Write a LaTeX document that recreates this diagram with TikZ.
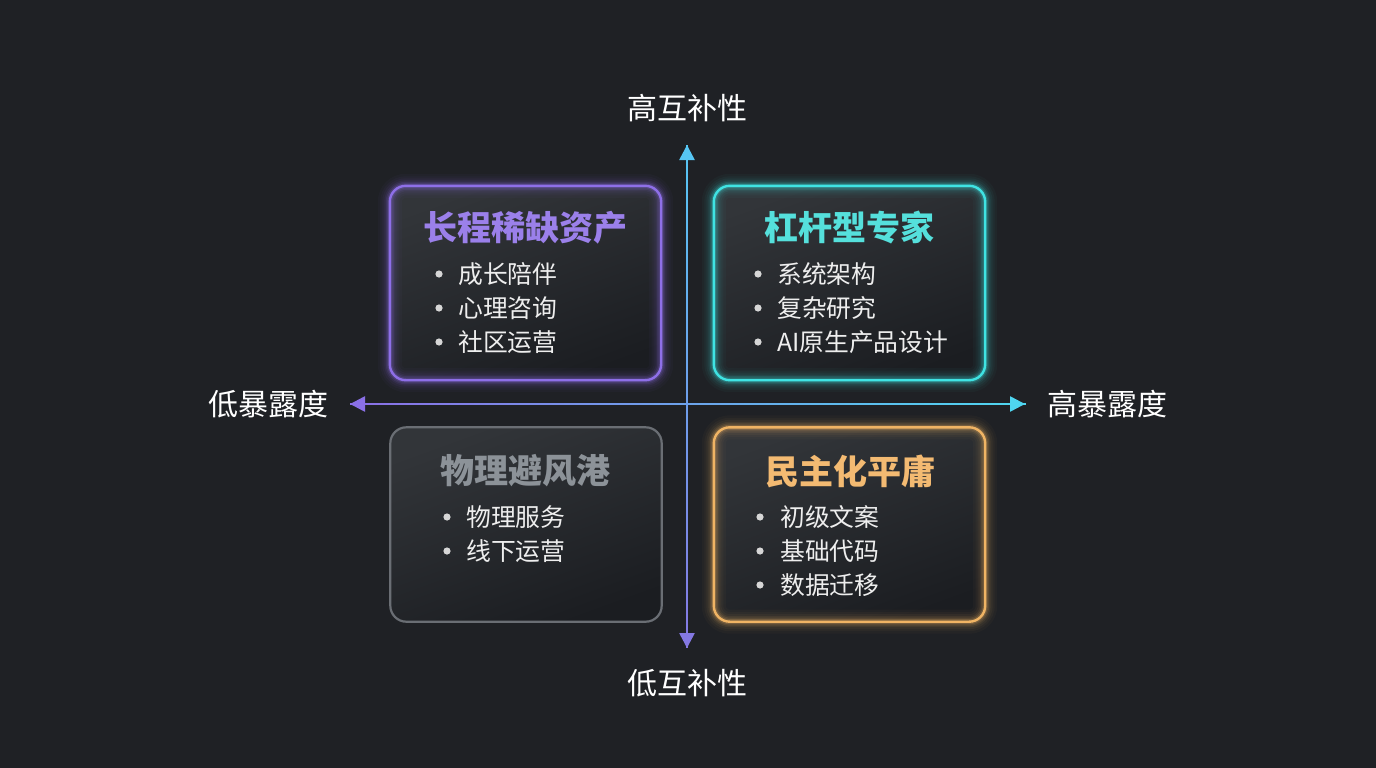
\documentclass[tikz,border=0pt]{standalone}
\usepackage{fontspec}
\setmainfont{Noto Sans CJK SC}
\usetikzlibrary{arrows.meta,calc}
\definecolor{bg}{HTML}{1F2125}
\definecolor{boxtop}{HTML}{323539}
\definecolor{boxbot}{HTML}{1B1D21}
\definecolor{cpurple}{HTML}{8E6FE8}
\definecolor{tpurple}{HTML}{9B80EA}
\definecolor{ccyan}{HTML}{3FE3E3}
\definecolor{tcyan}{HTML}{55E0DC}
\definecolor{cgray}{HTML}{6A6E74}
\definecolor{tgray}{HTML}{8C9298}
\definecolor{corange}{HTML}{F0B464}
\definecolor{torange}{HTML}{F3BA72}
\definecolor{itemtxt}{HTML}{EEEEEE}
\definecolor{dotc}{HTML}{D6D6D6}
\definecolor{vtopc}{HTML}{56C6F4}
\definecolor{vbotc}{HTML}{8478E2}
\definecolor{hleftc}{HTML}{8A70E6}
\definecolor{hrightc}{HTML}{4FD6F0}
\tikzset{
  quad/.style={minimum width=271pt,minimum height=194pt,rounded corners=16pt,inner sep=0pt,
    top color=boxtop,bottom color=boxbot,shading angle=20},
  titletxt/.style={font=\fontsize{34}{34}\selectfont\bfseries,inner sep=0pt},
  itemtext/.style={font=\fontsize{24.8}{25}\selectfont,text=itemtxt,inner sep=0pt,anchor=west},
  axislabel/.style={font=\fontsize{30}{30}\selectfont,text=white,inner sep=0pt},
  dotstyle/.style={fill=dotc}
}
\newcommand\glowrect[2]{%
  \foreach \w/\o in {24/0.03,19/0.04,15/0.05,11/0.08,8/0.12,5/0.2}{%
    \draw[#2,opacity=\o,line width=\w pt,rounded corners=16pt] (#1.south west) rectangle (#1.north east);}%
  \draw[#2,line width=2.4pt,rounded corners=16pt] (#1.south west) rectangle (#1.north east);}
\begin{document}
\begin{tikzpicture}[x=1pt,y=-1pt]
\fill[bg] (0,0) rectangle (1376,768);
\useasboundingbox (0,0) rectangle (1376,768);

% axes
\coordinate (vtop) at (687,145);
\coordinate (vbot) at (687,648);
\coordinate (hleft) at (350,404);
\coordinate (hright) at (1025,404);
\foreach \i in {0,...,59}{
  \pgfmathsetmacro{\p}{100-\i*100/59}
  \draw[line width=2.6pt,color=vtopc!\p!vbotc] ($(vtop)!{\i/60}!(vbot)$) -- ($(vtop)!{(\i+1.05)/60}!(vbot)$);
  \draw[line width=2.6pt,color=hleftc!\p!hrightc] ($(hleft)!{\i/60}!(hright)$) -- ($(hleft)!{(\i+1.05)/60}!(hright)$);
}
\draw[-{Triangle[length=15pt,width=15pt]},vtopc,line width=2.6pt] ($(vtop)+(0,16)$) -- (vtop);
\draw[-{Triangle[length=15pt,width=15pt]},vbotc,line width=2.6pt] ($(vbot)+(0,-16)$) -- (vbot);
\draw[-{Triangle[length=15pt,width=15pt]},hleftc,line width=2.6pt] ($(hleft)+(16,0)$) -- (hleft);
\draw[-{Triangle[length=15pt,width=15pt]},hrightc,line width=2.6pt] ($(hright)+(-16,0)$) -- (hright);

% axis labels
\node[axislabel] (lbltop) at (687,108) {高互补性};
\node[axislabel] (lblbot) at (687,683) {低互补性};
\node[axislabel] (lblleft) at (268,404) {低暴露度};
\node[axislabel] (lblright) at (1107,404) {高暴露度};

% boxes
\node[quad] (tl) at (525.5,283) {};
\node[quad] (tr) at (849.5,283) {};
\node[quad] (bl) at (526,524.5) {};
\node[quad] (br) at (849.5,524.5) {};
\glowrect{tl}{cpurple}
\glowrect{tr}{ccyan}
\glowrect{br}{corange}
\draw[cgray,line width=2.2pt,rounded corners=16pt] (bl.south west) rectangle (bl.north east);

% TL
\node[titletxt,text=tpurple] (tlt) at (525,228) {长程稀缺资产};
\foreach \y/\t [count=\k] in {274/成长陪伴,308/心理咨询,342/社区运营}{
  \fill[dotstyle] (439,\y) circle (3.6pt);
  \node[itemtext] (tli\k) at (458,\y) {\t};
}
% TR
\node[titletxt,text=tcyan] (trt) at (849.5,228) {杠杆型专家};
\foreach \y/\t [count=\k] in {274/系统架构,308/复杂研究,342/AI原生产品设计}{
  \fill[dotstyle] (758,\y) circle (3.6pt);
  \node[itemtext] (tri\k) at (777,\y) {\t};
}
% BL
\node[titletxt,text=tgray] (blt) at (525.5,471) {物理避风港};
\foreach \y/\t [count=\k] in {517/物理服务,551/线下运营}{
  \fill[dotstyle] (447,\y) circle (3.6pt);
  \node[itemtext] (bli\k) at (466,\y) {\t};
}
% BR
\node[titletxt,text=torange] (brt) at (850,471) {民主化平庸};
\foreach \y/\t [count=\k] in {517/初级文案,551/基础代码,585/数据迁移}{
  \fill[dotstyle] (760,\y) circle (3.6pt);
  \node[itemtext] (bri\k) at (780,\y) {\t};
}
\end{tikzpicture}
\end{document}
